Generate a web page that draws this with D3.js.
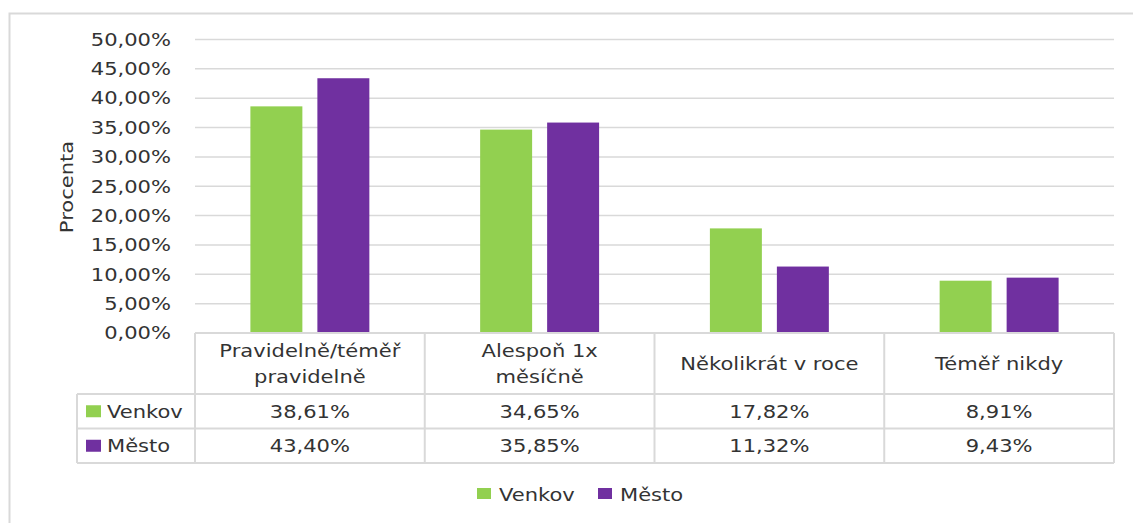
<!DOCTYPE html>
<html>
<head>
<meta charset="utf-8">
<script src="https://cdn.jsdelivr.net/npm/d3@7"></script>
<style>
  body { margin: 0; background: #fff; }
  svg text { font-family: "DejaVu Sans", sans-serif; fill: #333; font-size: 18px; }
</style>
</head>
<body>
<svg id="chart" width="1133" height="523"></svg>
<script>
// data
const categories = [["Pravidelně/téměř", "pravidelně"], ["Alespoň 1x", "měsíčně"], ["Několikrát v roce"], ["Téměř nikdy"]]
const series = ["Venkov", "Město"]
const venkov = [38.61, 34.65, 17.82, 8.91]
const mesto = [43.40, 35.85, 11.32, 9.43]
const yTicks = [0, 5, 10, 15, 20, 25, 30, 35, 40, 45, 50]
const colors = ["#92d050", "#7030a0"]

const values = [venkov, mesto]
const fmt = v => v.toFixed(2).replace(".", ",") + "%"
const SX = 1.17  // text in the picture is a bit stretched sideways

const svg = d3.select("#chart")
const grid = "#d9d9d9"

function txt(x, y, str, anchor, extra) {
    return svg.append("text")
        .attr("transform", "translate(" + x + "," + y + ")" + (extra || "") + " scale(" + SX + ",1)")
        .attr("text-anchor", anchor || "start")
        .text(str)
}

// outer chart frame (runs past right and bottom edge)
svg.append("rect")
    .attr("x", 9.5).attr("y", 13.5)
    .attr("width", 1300).attr("height", 700)
    .attr("fill", "none").attr("stroke", grid).attr("stroke-width", 2)

const plotL = 195, plotR = 1114, plotT = 39.5, plotB = 333

const y = d3.scaleLinear().domain([0, 50]).range([plotB, plotT])
const x0 = d3.scaleBand().domain(d3.range(categories.length)).range([plotL, plotR])
const x1 = d3.scaleBand().domain(series).range([0, x0.bandwidth()])
    .paddingInner(0.224).paddingOuter(0.827)

// gridlines
svg.append("g").selectAll("line").data(yTicks.filter(t => t > 0)).join("line")
    .attr("x1", plotL).attr("x2", plotR)
    .attr("y1", d => y(d)).attr("y2", d => y(d))
    .attr("stroke", grid).attr("stroke-width", 1.5)

// y axis labels
const yAxis = d3.axisLeft(y).tickValues(yTicks).tickFormat(fmt).tickSize(0).tickPadding(0)
svg.append("g").attr("transform", "translate(171,0)").call(yAxis)
    .attr("font-size", null).attr("font-family", null)
    .call(g => g.select(".domain").remove())
    .selectAll("text").attr("fill", null)
    .attr("transform", "scale(" + SX + ",1)")

txt(73, 187, "Procenta", "middle", " rotate(-90)")

// bars
series.forEach((s, si) => {
    svg.append("g").selectAll("rect").data(values[si]).join("rect")
        .attr("x", (d, i) => x0(i) + x1(s))
        .attr("width", x1.bandwidth())
        .attr("y", d => y(d))
        .attr("height", d => plotB - y(d))
        .attr("fill", colors[si])
})

// data table
const rowH = [394, 428.5, 463]
const tbl = svg.append("g").attr("stroke", grid).attr("stroke-width", 2)
tbl.append("line").attr("x1", plotL).attr("x2", plotR).attr("y1", plotB).attr("y2", plotB)
rowH.forEach(r => tbl.append("line").attr("x1", 77).attr("x2", plotR).attr("y1", r).attr("y2", r))
tbl.append("line").attr("x1", 77).attr("x2", 77).attr("y1", rowH[0]).attr("y2", rowH[2])
d3.range(categories.length + 1).forEach(i => {
    const xx = i < categories.length ? x0(i) : plotR
    tbl.append("line").attr("x1", xx).attr("x2", xx).attr("y1", plotB).attr("y2", rowH[2])
})

// header cells
categories.forEach((c, i) => {
    const cx = x0(i) + x0.bandwidth() / 2
    const mid = (plotB + rowH[0]) / 2
    c.forEach((ln, k) => {
        txt(cx, mid + (k - (c.length - 1) / 2) * 26 + 6.5, ln, "middle")
    })
})

// series rows
series.forEach((s, si) => {
    const ry = si === 0 ? (rowH[0] + rowH[1]) / 2 : (rowH[1] + rowH[2]) / 2
    svg.append("rect").attr("x", 86).attr("y", ry - 6).attr("width", 15).attr("height", 12).attr("fill", colors[si])
    txt(107, ry + 6.5, s)
    values[si].forEach((v, i) => {
        txt(x0(i) + x0.bandwidth() / 2, ry + 6.5, fmt(v), "middle")
    })
})

// legend
const legX = [477, 598]
series.forEach((s, si) => {
    svg.append("rect").attr("x", legX[si]).attr("y", 488).attr("width", 14).attr("height", 11).attr("fill", colors[si])
    txt(legX[si] + 22, 500.5, s)
})
</script>
</body>
</html>
